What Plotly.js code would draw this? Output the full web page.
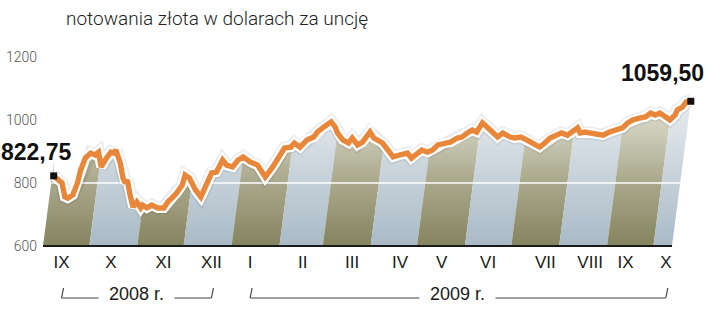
<!DOCTYPE html>
<html><head><meta charset="utf-8">
<script src="https://cdn.plot.ly/plotly-3.0.1.min.js"></script>
<style>html,body{margin:0;padding:0;background:#fff}#chart{width:720px;height:310px}</style>
</head><body><div id="chart"></div>
<script>
// ---- data ----
const dates = [
'2008-09-02','2008-09-08','2008-09-11','2008-09-13','2008-09-16','2008-09-18','2008-09-19','2008-09-21','2008-09-24','2008-09-27',
'2008-09-29','2008-10-02','2008-10-04','2008-10-07','2008-10-09','2008-10-10','2008-10-14','2008-10-17','2008-10-19','2008-10-20',
'2008-10-23','2008-10-26','2008-10-28','2008-10-31','2008-11-01','2008-11-04','2008-11-07','2008-11-11','2008-11-15','2008-11-17',
'2008-11-20','2008-11-22','2008-11-25','2008-11-26','2008-11-29','2008-12-04','2008-12-08','2008-12-10','2008-12-13','2008-12-16',
'2008-12-19','2008-12-22','2008-12-26','2008-12-29','2009-01-01','2009-01-06','2009-01-11','2009-01-15','2009-01-17','2009-01-21',
'2009-01-24','2009-01-27','2009-01-31','2009-02-02','2009-02-06','2009-02-10','2009-02-14','2009-02-16','2009-02-19','2009-02-22',
'2009-02-24','2009-02-27','2009-03-01','2009-03-05','2009-03-09','2009-03-11','2009-03-15','2009-03-18','2009-03-20','2009-03-22',
'2009-03-25','2009-03-28','2009-03-31','2009-04-04','2009-04-08','2009-04-12','2009-04-17','2009-04-20','2009-04-23','2009-04-26',
'2009-04-30','2009-05-03','2009-05-06','2009-05-10','2009-05-14','2009-05-18','2009-05-21','2009-05-24','2009-05-27','2009-05-30',
'2009-06-02','2009-06-06','2009-06-10','2009-06-13','2009-06-16','2009-06-21','2009-06-24','2009-06-28','2009-07-02','2009-07-06',
'2009-07-11','2009-07-14','2009-07-17','2009-07-21','2009-07-24','2009-07-28','2009-07-31','2009-08-03','2009-08-05','2009-08-08',
'2009-08-11','2009-08-15','2009-08-20','2009-08-24','2009-08-29','2009-09-01','2009-09-04','2009-09-07','2009-09-11','2009-09-15',
'2009-09-18','2009-09-21','2009-09-24','2009-09-28','2009-10-01','2009-10-04','2009-10-05','2009-10-08','2009-10-10','2009-10-13'];
const prices = [
822.75,800,756,752,762,800,841,879,895,889,
898,851,873,898,895,905,864,816,800,810,
762,724,740,721,730,721,730,721,721,740,
756,768,794,825,816,778,756,784,832,835,
873,857,851,873,883,867,857,832,819,851,
879,911,914,927,914,937,946,962,975,984,
994,978,959,937,927,943,921,930,946,962,
943,937,927,905,883,889,895,879,895,905,
898,905,921,927,930,943,946,959,968,962,
991,975,959,946,959,946,943,946,937,927,
914,927,943,952,959,952,962,975,959,962,
959,956,952,962,968,975,991,1000,1006,1010,
1022,1016,1022,1010,1000,1016,1032,1041,1057,1059.5];
const monthStarts = ['2008-09-01','2008-10-01','2008-11-01','2008-12-01','2009-01-01','2009-02-01','2009-03-01',
                     '2009-04-01','2009-05-01','2009-06-01','2009-07-01','2009-08-01','2009-09-01','2009-10-01'];
const tickDates = ['2008-09-13','2008-10-15','2008-11-18','2008-12-19','2009-01-13','2009-02-16','2009-03-20',
                   '2009-04-20','2009-05-17','2009-06-16','2009-07-23','2009-08-21','2009-09-13','2009-10-09'];
const tickLabels = ['IX','X','XI','XII','I','II','III','IV','V','VI','VII','VIII','IX','X'];
const yTicks = [600, 800, 1000, 1200];
const yearLabels = ['2008 r.', '2009 r.'];
const yearFirstTick = [0, 4];
const yearLastTick = [3, 13];
const startLabel = '822,75';
const endLabel = '1059,50';
const titleText = 'notowania złota w dolarach za uncję';

(function () {
// ---- geometry / style ----
const W = 720, H = 310, M = {l: 43, r: 10, t: 57, b: 63};
const YMIN = 597, YMAX = 1200, YBASE = 600;
const DAY = 86400000;
const plotW = W - M.l - M.r, plotH = H - M.t - M.b;
const PX_PER_DAY = 629 / 407;
const xStart = Date.parse(monthStarts[0]);
const xEnd = xStart + plotW / PX_PER_DAY * DAY;
const SLANT = 0.13; // perspective shear of the original graphic (px across per px up)
const pxPerUnit = plotH / (YMAX - YMIN);
const ms = d => Date.parse(d);
const sh = v => SLANT * (v - YBASE) * pxPerUnit / PX_PER_DAY * DAY;
const pad = n => String(n).padStart(2, '0');
const fmt = t => { const d = new Date(t); return d.getUTCFullYear() + '-' + pad(d.getUTCMonth() + 1) + '-' + pad(d.getUTCDate()) + ' ' + pad(d.getUTCHours()) + ':' + pad(d.getUTCMinutes()) + ':' + pad(d.getUTCSeconds()); };

const lastIdx = dates.length - 1;
const lineX = dates.map((d, i) => fmt(ms(d) + sh(prices[i])));
const topVal = Math.max(...prices);
const FONT = 'Liberation Sans, Arial, sans-serif';

const olive = [[0, '#85845f'], [0.45, '#aaa98d'], [1, '#e2e2d5']];
const light = [[0, '#a9bac6'], [0.45, '#c5d0d8'], [1, '#e8edf1']];

const traces = [];
monthStarts.forEach((m, i) => {
  const a = ms(m);
  const b = i + 1 < monthStarts.length ? ms(monthStarts[i + 1]) : ms(dates[lastIdx]);
  traces.push({
    type: 'scatter', mode: 'lines', hoverinfo: 'skip', showlegend: false,
    x: [fmt(a), fmt(b), fmt(b + sh(topVal)), fmt(a + sh(topVal)), fmt(a)],
    y: [YBASE, YBASE, topVal, topVal, YBASE],
    fill: 'toself', line: {width: 0},
    fillgradient: {type: 'vertical', start: YBASE, stop: topVal, colorscale: i % 2 === 0 ? olive : light}
  });
});
traces.push({type: 'scatter', mode: 'lines', hoverinfo: 'skip', showlegend: false,
  x: [fmt(ms(monthStarts[0]) + sh(800)), fmt(ms(dates[lastIdx]) + sh(800))], y: [800, 800],
  line: {color: '#ffffff', width: 1.5}});
traces.push({type: 'scatter', mode: 'lines', hoverinfo: 'skip', showlegend: false,
  x: lineX.concat([lineX[lastIdx], lineX[0]]), y: prices.concat([YMAX, YMAX]),
  fill: 'toself', fillcolor: '#ffffff', line: {width: 0}});
traces.push({type: 'scatter', mode: 'lines', hoverinfo: 'skip', showlegend: false,
  x: lineX, y: prices, line: {color: 'rgba(0,0,0,0.08)', width: 13}});
traces.push({type: 'scatter', mode: 'lines', hoverinfo: 'skip', showlegend: false,
  x: lineX, y: prices, line: {color: '#ffffff', width: 10}});
traces.push({type: 'scatter', mode: 'lines', hoverinfo: 'skip', showlegend: false,
  x: lineX, y: prices, line: {color: '#e8873a', width: 5.4}});
traces.push({type: 'scatter', mode: 'lines', hoverinfo: 'skip', showlegend: false,
  x: [fmt(ms(monthStarts[0])), fmt(ms(dates[lastIdx]))], y: [YBASE, YBASE],
  line: {color: '#1a1a1a', width: 2}});
traces.push({type: 'scatter', mode: 'markers', hoverinfo: 'skip', showlegend: false, cliponaxis: false,
  x: [lineX[0], lineX[lastIdx]], y: [prices[0], prices[lastIdx]],
  marker: {symbol: 'square', size: 7, color: '#111111'}});

const yPaper = py => (H - M.b - py) / plotH;
const shapes = [];
const annotations = [];
const off = 2 / PX_PER_DAY * DAY;
yearLabels.forEach((lab, k) => {
  const xa = ms(tickDates[yearFirstTick[k]]), xb = ms(tickDates[yearLastTick[k]]);
  const yb = yPaper(298), yt = yPaper(288);
  const ln = {type: 'line', xref: 'x', yref: 'paper', line: {color: '#444', width: 1.2}};
  shapes.push(Object.assign({}, ln, {x0: fmt(xa), y0: yb, x1: fmt(xa + off), y1: yt}));
  shapes.push(Object.assign({}, ln, {x0: fmt(xa), y0: yb, x1: fmt(xb), y1: yb}));
  shapes.push(Object.assign({}, ln, {x0: fmt(xb), y0: yb, x1: fmt(xb + off), y1: yt}));
  annotations.push({xref: 'x', yref: 'paper', x: fmt((xa + xb) / 2), y: yPaper(294),
    text: lab, showarrow: false, xanchor: 'center', yanchor: 'middle',
    bgcolor: '#ffffff', borderpad: 10, font: {family: FONT, size: 18, color: '#1a1a1a'}});
});
annotations.push({x: lineX[0], y: prices[0], text: startLabel, showarrow: false,
  xanchor: 'right', yanchor: 'middle', xshift: 20, yshift: 24,
  font: {family: FONT, size: 23, weight: 700, color: '#111'}});
annotations.push({x: lineX[lastIdx], y: prices[lastIdx], text: endLabel, showarrow: false,
  xanchor: 'right', yanchor: 'middle', xshift: 15, yshift: 28,
  font: {family: FONT, size: 23, weight: 700, color: '#111'}});

const layout = {
  width: W, height: H, margin: M, paper_bgcolor: '#fff', plot_bgcolor: '#fff', showlegend: false,
  title: {text: titleText, x: 66 / W, xanchor: 'left', xref: 'container', y: 1 - 18 / H, yanchor: 'middle', yref: 'container',
    font: {family: 'Roboto, sans-serif', size: 19, weight: 300, color: '#222'}},
  xaxis: {type: 'date', range: [fmt(xStart), fmt(xEnd)], showgrid: false, zeroline: false, showline: false,
    ticks: '', tickvals: tickDates, ticktext: tickLabels, ticklabelstandoff: 3,
    tickfont: {family: FONT, size: 17, color: '#1a1a1a'}},
  yaxis: {range: [YMIN, YMAX], showgrid: false, zeroline: false, showline: false, ticks: '',
    tickvals: yTicks, ticktext: yTicks.map(String), ticklabelstandoff: 5,
    tickfont: {family: 'Roboto, sans-serif', size: 14, weight: 300, color: '#555'}},
  shapes: shapes, annotations: annotations
};
Plotly.newPlot('chart', traces, layout, {staticPlot: true, displayModeBar: false});
})();
</script>
</body></html>
